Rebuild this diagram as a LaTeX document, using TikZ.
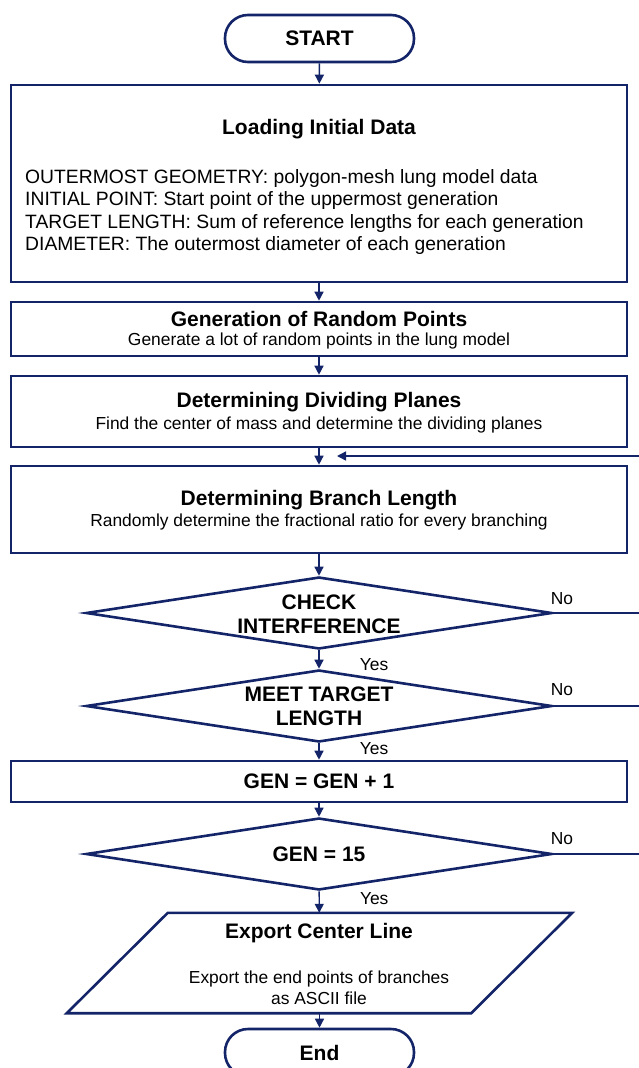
\documentclass[tikz,border=0pt]{standalone}
\usepackage{fontspec}
\setmainfont{Liberation Sans}
\usetikzlibrary{shapes.geometric,arrows.meta}
\definecolor{flowblue}{RGB}{20,36,104}

\begin{document}
\begin{tikzpicture}[x=1pt,y=-1pt]
  \tikzstyle{every node}+=[inner sep=0pt, text=black]
  \tikzstyle{term}=[draw=flowblue, line width=2.6pt, rectangle, rounded corners=23pt, minimum width=189pt, minimum height=47pt]
  \tikzstyle{block}=[draw=flowblue, line width=2.6pt, rectangle, minimum width=616pt]
  \tikzstyle{decide}=[draw=flowblue, line width=2.6pt, diamond, minimum width=466pt, minimum height=72pt]
  \tikzstyle{io}=[rectangle, minimum width=404pt, minimum height=100pt]
  \tikzstyle{flow}=[draw=flowblue, line width=1.4pt, -{Triangle[length=9pt,width=9pt]}]
  \tikzstyle{ttl}=[font=\fontsize{21}{24}\selectfont\bfseries]
  \tikzstyle{sub}=[font=\fontsize{17.4}{21}\selectfont]
  \tikzstyle{ans}=[font=\fontsize{17.4}{19}\selectfont]
  \useasboundingbox (0,0) rectangle (639,1068);
  \clip (0,0) rectangle (639,1068);

  % shapes
  \node [term] (start) at (319.5,38.5) {};
  \node [block, minimum height=197pt] (load) at (319,183.5) {};
  \node [block, minimum height=54pt] (rand) at (319,329) {};
  \node [block, minimum height=71pt] (plane) at (319,411.5) {};
  \node [block, minimum height=87pt] (branch) at (319,509.5) {};
  \node [decide] (chk) at (319,613) {};
  \node [decide] (meet) at (319,706) {};
  \node [block, minimum height=41pt] (gen) at (319,781.5) {};
  \node [decide] (last) at (319,854) {};
  \node [io] (export) at (319.5,963) {};
  \draw [flowblue, line width=2.6pt, line join=miter]
    ([xshift=50.5pt]export.north west) -- ([xshift=50.5pt]export.north east)
    -- ([xshift=-50.5pt]export.south east) -- ([xshift=-50.5pt]export.south west) -- cycle;
  \node [term] (stop) at (319.5,1052.5) {};

  % texts
  \node [ttl] (starttxt) at (start) {START};
  \node [ttl] (loadttl) at (319,129) {Loading Initial Data};
  \node [font=\fontsize{19.3}{22.5}\selectfont, anchor=west, align=left] (loadtxt) at (25,212) {OUTERMOST GEOMETRY: polygon-mesh lung model data\\INITIAL POINT: Start point of the uppermost generation\\TARGET LENGTH: Sum of reference lengths for each generation\\DIAMETER: The outermost diameter of each generation};
  \node [ttl] (randttl) at (319,319) {Generation of Random Points};
  \node [sub] (randtxt) at (319,341) {Generate a lot of random points in the lung model};
  \node [ttl] (planettl) at (319,402) {Determining Dividing Planes};
  \node [sub] (planetxt) at (319,425) {Find the center of mass and determine the dividing planes};
  \node [ttl] (branchttl) at (319,500) {Determining Branch Length};
  \node [sub] (branchtxt) at (319,522) {Randomly determine the fractional ratio for every branching};
  \node [ttl, align=center] (chktxt) at (319,614) {CHECK\\INTERFERENCE};
  \node [ttl, align=center] (meettxt) at (319,706.5) {MEET TARGET\\LENGTH};
  \node [ttl] (gentxt) at (gen) {GEN = GEN + 1};
  \node [ttl] (lasttxt) at (last) {GEN = 15};
  \node [ttl] (exportttl) at (319,933) {Export Center Line};
  \node [sub, align=center] (exporttxt) at (319,987.5) {Export the end points of branches\\as ASCII file};
  \node [ttl] (stoptxt) at (stop) {End};

  % main flow
  \draw [flow] (start) -- (load);
  \draw [flow] (load) -- (rand);
  \draw [flow] (rand) -- (plane);
  \draw [flow] (plane) -- (branch);
  \draw [flow] (branch) -- (chk);
  \draw [flow] (chk) -- node [ans, pos=0.76, xshift=55pt] (yes1) {Yes} (meet);
  \draw [flow] (meet) -- node [ans, pos=0.32, xshift=55pt] (yes2) {Yes} (gen);
  \draw [flow] (gen) -- (last);
  \draw [flow] (last) -- node [ans, pos=0.35, xshift=55pt] (yes3) {Yes} (export);
  \draw [flow] (export) -- (stop);

  % loops back on the right
  \coordinate (no1) at (639,613);
  \coordinate (no2) at (639,706);
  \coordinate (no3) at (639,854);
  \coordinate (back) at (639,456);
  \coordinate (join) at (337,456);
  \draw [flowblue, line width=1.4pt] (chk.east) -- node [ans, above=8pt, pos=0.1] (noa) {No} (no1);
  \draw [flowblue, line width=1.4pt] (meet.east) -- node [ans, above=10pt, pos=0.1] (nob) {No} (no2);
  \draw [flowblue, line width=1.4pt] (last.east) -- node [ans, above=9pt, pos=0.1] (noc) {No} (no3);
  \draw [flow] (back) -- (join);
\end{tikzpicture}
\end{document}
